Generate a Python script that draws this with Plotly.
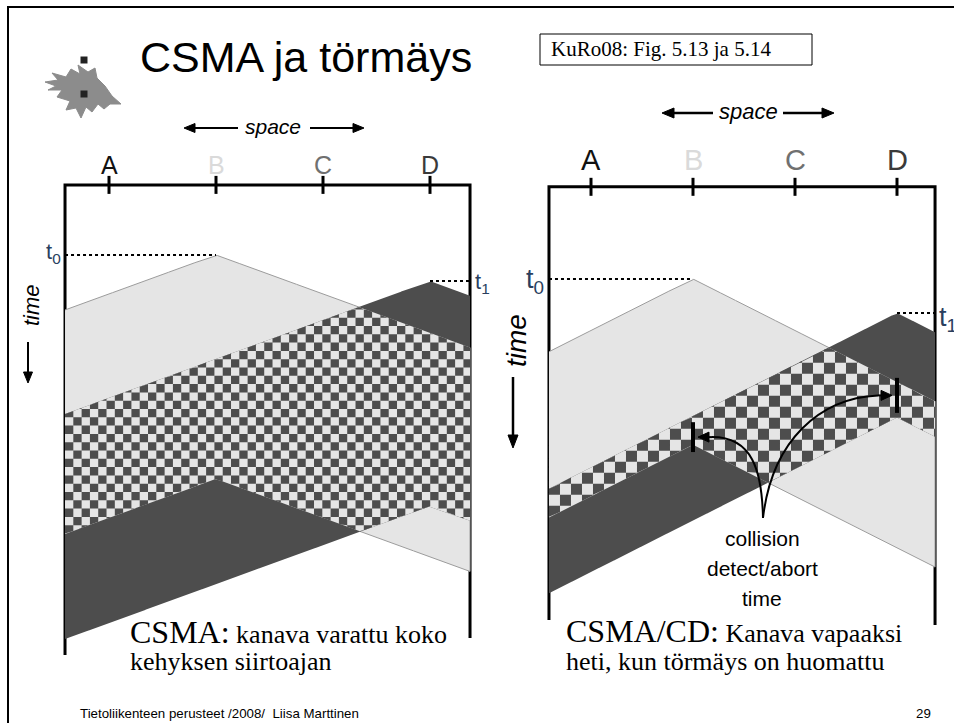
import numpy as np
import plotly.graph_objects as go

W, H = 954, 723

# ---------------- data ----------------
stations = ["A", "B", "C", "D"]
station_x = [1, 2, 3, 4]
station_label_colors = ["#111111", "#dadada", "#707070", "#3a3a3a"]

# times in units of the propagation delay between neighbouring stations
csma_senders = ["B", "D"]
csma_start = [0.0, 0.67]
csma_duration = [5.75, 5.78]

cd_senders = ["B", "D"]
cd_start = [0.0, 0.66]
cd_duration = [3.22, 2.03]
cd_abort_from = [2.78, 1.92]
cd_abort_to = [3.36, 2.60]

# ------------- style / placement --------------
LIGHT = "#e5e5e5"
DARK = "#4d4d4d"
EDGE = "#9c9c9c"
SANS = "Liberation Sans, Arial, sans-serif"
SERIF = "Liberation Serif, Times New Roman, serif"
NARROW = "Liberation Sans Narrow, Arial Narrow, Liberation Sans, sans-serif"

LEFT = dict(xref="x", yref="y", px_x=216, sx=107, px_y=255, sy=38.95,
            x0=0.589, x1=4.374, top=-1.80, bot_l=10.27, bot_r=9.83, sq=8.3)
RIGHT = dict(xref="x2", yref="y2", px_x=693, sx=102, px_y=279, sy=51.5,
             x0=0.588, x1=4.373, top=-1.79, bot_l=6.62, bot_r=6.72, sq=11.0)
REF_X = station_x[1]
REF_T = 0.0


def axis_ranges(P):
    xr = [REF_X - P["px_x"] / P["sx"], REF_X + (W - P["px_x"]) / P["sx"]]
    yr = [REF_T + (H - P["px_y"]) / P["sy"], REF_T - P["px_y"] / P["sy"]]
    return xr, yr


def to_data(P, xp, yp):
    return REF_X + (xp - P["px_x"]) / P["sx"], REF_T + (yp - P["px_y"]) / P["sy"]


def to_px(P, x, t):
    return P["px_x"] + (x - REF_X) * P["sx"], P["px_y"] + (t - REF_T) * P["sy"]


def paper(xp, yp):
    return xp / W, 1 - yp / H


def wave(x, xs, t):
    return t + np.abs(x - xs)


def runs_polygon(xs, lo, hi):
    X, Y = [], []
    idx = np.where(lo < hi)[0]
    if idx.size == 0:
        return X, Y
    for r in np.split(idx, np.where(np.diff(idx) != 1)[0] + 1):
        X += list(xs[r]) + list(xs[r][::-1]) + [None]
        Y += list(lo[r]) + list(hi[r][::-1]) + [None]
    return X, Y


def poly_trace(X, Y, fill, P, line_color=None, line_width=0):
    return go.Scatter(x=X, y=Y, mode="lines", fill="toself", fillcolor=fill,
                      line=dict(color=line_color or fill, width=line_width),
                      xaxis=P["xref"], yaxis=P["yref"], hoverinfo="skip",
                      showlegend=False)


def panel_traces(P, senders, starts, durs):
    pos = [station_x[stations.index(s)] for s in senders]
    xs = np.union1d(np.linspace(P["x0"], P["x1"], 2001), pos)
    xs = xs[(xs >= P["x0"]) & (xs <= P["x1"])]

    def top(i, x):
        return wave(x, pos[i], starts[i])

    def bot(i, x):
        return wave(x, pos[i], starts[i] + durs[i])

    def lo_f(x):
        return np.maximum(top(0, x), top(1, x))

    def hi_f(x):
        return np.minimum(bot(0, x), bot(1, x))

    tr = []
    X, Y = runs_polygon(xs, top(0, xs), bot(0, xs))
    tr.append(poly_trace(X, Y, LIGHT, P, EDGE, 1))
    X, Y = runs_polygon(xs, top(1, xs), bot(1, xs))
    tr.append(poly_trace(X, Y, DARK, P))
    X, Y = runs_polygon(xs, lo_f(xs), hi_f(xs))
    tr.append(poly_trace(X, Y, LIGHT, P))

    sqx = P["sq"] / P["sx"]
    sqy = P["sq"] / P["sy"]
    CX, CY = [], []
    ncol = int(np.ceil((P["x1"] - P["x0"]) / sqx))
    for i in range(ncol):
        a = P["x0"] + i * sqx
        b = min(a + sqx, P["x1"])
        xx = np.linspace(a, b, 9)
        lo = lo_f(xx)
        hi = hi_f(xx)
        if not np.any(lo < hi):
            continue
        j0 = int(np.floor((lo.min() - P["top"]) / sqy))
        j1 = int(np.ceil((hi.max() - P["top"]) / sqy))
        for j in range(j0, j1 + 1):
            if (i + j) % 2 == 0:
                continue
            c = P["top"] + j * sqy
            d = c + sqy
            X, Y = runs_polygon(xx, np.maximum(lo, c), np.minimum(hi, d))
            CX += X
            CY += Y
    tr.append(poly_trace(CX, CY, DARK, P))
    return tr, pos


def frame_shapes(P, pos, starts):
    xr, yr = P["xref"], P["yref"]
    sh = []
    path = (f"M {P['x0']},{P['bot_l']} L {P['x0']},{P['top']} "
            f"L {P['x1']},{P['top']} L {P['x1']},{P['bot_r']}")
    sh.append(dict(type="path", path=path, xref=xr, yref=yr,
                   line=dict(color="black", width=3), layer="below"))
    tick = 9.0 / P["sy"]
    for sxv in station_x:
        sh.append(dict(type="line", x0=sxv, x1=sxv, y0=P["top"] - tick,
                       y1=P["top"] + tick, xref=xr, yref=yr,
                       line=dict(color="black", width=3), layer="above"))
    sh.append(dict(type="line", x0=P["x0"], x1=pos[0], y0=starts[0], y1=starts[0],
                   xref=xr, yref=yr, line=dict(color="black", width=2, dash="dot")))
    sh.append(dict(type="line", x0=pos[1], x1=P["x1"], y0=starts[1], y1=starts[1],
                   xref=xr, yref=yr, line=dict(color="black", width=2, dash="dot")))
    return sh


def arrow_shapes(tx, ty, hx, hy, conv, xref, yref, width=2, head=10, half=4.5):
    """straight arrow given in pixel space (tail -> head), converted with conv"""
    dx, dy = hx - tx, hy - ty
    n = (dx * dx + dy * dy) ** 0.5
    ux, uy = dx / n, dy / n
    bx, by = hx - ux * head, hy - uy * head
    p1 = conv(bx - uy * half, by + ux * half)
    p2 = conv(bx + uy * half, by - ux * half)
    h = conv(hx, hy)
    t = conv(tx, ty)
    b = conv(bx + ux * 1.5, by + uy * 1.5)
    return [dict(type="line", x0=t[0], y0=t[1], x1=b[0], y1=b[1], xref=xref, yref=yref,
                 line=dict(color="black", width=width)),
            dict(type="path", xref=xref, yref=yref,
                 path=f"M {h[0]},{h[1]} L {p1[0]},{p1[1]} L {p2[0]},{p2[1]} Z",
                 fillcolor="black", line=dict(color="black", width=1))]


fig = go.Figure()
ltr, lpos = panel_traces(LEFT, csma_senders, csma_start, csma_duration)
rtr, rpos = panel_traces(RIGHT, cd_senders, cd_start, cd_duration)
for t in ltr + rtr:
    fig.add_trace(t)

shapes = frame_shapes(LEFT, lpos, csma_start) + frame_shapes(RIGHT, rpos, cd_start)

# abort bars (CSMA/CD)
for i, s in enumerate(cd_senders):
    xv = station_x[stations.index(s)]
    shapes.append(dict(type="line", x0=xv, x1=xv, y0=cd_abort_from[i], y1=cd_abort_to[i],
                       xref="x2", yref="y2", line=dict(color="black", width=4)))


def rconv(xp, yp):
    return to_data(RIGHT, xp, yp)


# curved arrows from the label to the abort bars
tip_px = (763, 518)
tip = rconv(*tip_px)
curves = [((762, 470), (752, 437), 14), ((772, 440), (820, 398), -14)]
for i, s in enumerate(cd_senders):
    xv = station_x[stations.index(s)]
    mid = (cd_abort_from[i] + cd_abort_to[i]) / 2
    ex, ey = to_px(RIGHT, xv, mid)
    c1p, c2p, off = curves[i]
    ex = ex + (5 if off > 0 else -5)
    end_line = (ex + off, ey)
    c1 = rconv(*c1p)
    c2 = rconv(*c2p)
    e = rconv(*end_line)
    shapes.append(dict(type="path", xref="x2", yref="y2",
                       path=f"M {tip[0]},{tip[1]} C {c1[0]},{c1[1]} {c2[0]},{c2[1]} {e[0]},{e[1]}",
                       line=dict(color="black", width=2)))
    shapes += arrow_shapes(end_line[0], end_line[1], ex, ey, rconv, "x2", "y2", width=2,
                           head=11, half=5)


def pconv(xp, yp):
    return paper(xp, yp)


# space / time arrows
shapes += arrow_shapes(238, 128, 184, 128, pconv, "paper", "paper", width=2, head=11, half=4.5)
shapes += arrow_shapes(310, 128, 364, 128, pconv, "paper", "paper", width=2, head=11, half=4.5)
shapes += arrow_shapes(713, 113, 662, 113, pconv, "paper", "paper", width=2.5, head=12, half=5)
shapes += arrow_shapes(783, 113, 834, 113, pconv, "paper", "paper", width=2.5, head=12, half=5)
shapes += arrow_shapes(28, 342, 28, 383, pconv, "paper", "paper", width=2, head=11, half=4.5)
shapes += arrow_shapes(513, 377, 513, 448, pconv, "paper", "paper", width=2.5, head=13, half=5)

# slide border (right and bottom edges lie outside the view)
bx0, by0 = paper(8, 7)
bx1, by1 = paper(965, 745)
shapes.append(dict(type="rect", xref="paper", yref="paper", x0=bx0, y0=by0, x1=bx1, y1=by1,
                   line=dict(color="black", width=2)))
# reference box
rx0, ry0 = paper(540, 34)
rx1, ry1 = paper(812, 65)
shapes.append(dict(type="rect", xref="paper", yref="paper", x0=rx0, y0=ry0, x1=rx1, y1=ry1,
                   line=dict(color="black", width=1)))

# logo (flame) and bullets
flame_px = [(45, 82), (58, 80), (52, 73), (66, 77), (71, 69), (80, 74), (78, 65), (88, 72),
            (95, 68), (97, 78), (105, 86), (112, 96), (121, 104), (110, 104), (104, 109),
            (98, 104), (92, 112), (86, 107), (81, 118), (76, 108), (66, 110), (70, 101),
            (57, 97), (62, 90), (48, 90), (56, 86)]
fp = [paper(a, b) for a, b in flame_px]
fpath = "M " + " L ".join(f"{a},{b}" for a, b in fp) + " Z"
shapes.append(dict(type="path", xref="paper", yref="paper", path=fpath,
                   fillcolor="#8c8c8c", line=dict(color="#8c8c8c", width=1)))
for (cx, cy) in [(84, 60), (84, 94)]:
    a0, b0 = paper(cx - 3.5, cy - 3.5)
    a1, b1 = paper(cx + 3.5, cy + 3.5)
    shapes.append(dict(type="rect", xref="paper", yref="paper", x0=a0, y0=b0, x1=a1, y1=b1,
                       fillcolor="#222222", line=dict(width=0)))

ann = []


def txt(text, xp, yp, size, family, color="#000000", xanchor="center", angle=0):
    x, y = paper(xp, yp)
    ann.append(dict(text=text, x=x, y=y, xref="paper", yref="paper", showarrow=False,
                    font=dict(size=size, family=family, color=color), xanchor=xanchor,
                    yanchor="middle", textangle=angle))


# title & reference
txt("CSMA ja törmäys", 138, 57, 43, SANS, xanchor="left")
txt("KuRo08: Fig. 5.13 ja 5.14", 549, 49, 21, SERIF, xanchor="left")

# space labels
txt("<i>space</i>", 273, 126, 21, SANS)
txt("<i>space</i>", 748, 111, 22, NARROW)

# station letters
for i, s in enumerate(stations):
    ann.append(dict(text=s, x=station_x[i], y=paper(0, 165)[1], xref="x", yref="paper",
                    showarrow=False, font=dict(size=25, family=SANS, color=station_label_colors[i]),
                    yanchor="middle"))
    ann.append(dict(text=s, x=station_x[i], y=paper(0, 160)[1], xref="x2", yref="paper",
                    showarrow=False, font=dict(size=29, family=NARROW, color=station_label_colors[i]),
                    yanchor="middle"))

# t0 / t1 labels
ann.append(dict(text="t<sub>0</sub>", x=LEFT["x0"], y=csma_start[0], xref="x", yref="y",
                showarrow=False, font=dict(size=22, family=SANS), xanchor="right",
                yanchor="middle", xshift=-2, yshift=2))
ann.append(dict(text="t<sub>1</sub>", x=LEFT["x1"], y=csma_start[1], xref="x", yref="y",
                showarrow=False, font=dict(size=22, family=SANS), xanchor="left",
                yanchor="middle", xshift=3, yshift=-2))
ann.append(dict(text="t<sub>0</sub>", x=RIGHT["x0"], y=cd_start[0], xref="x2", yref="y2",
                showarrow=False, font=dict(size=27, family=NARROW), xanchor="right",
                yanchor="middle", xshift=-3, yshift=-2))
ann.append(dict(text="t<sub>1</sub>", x=RIGHT["x1"], y=cd_start[1], xref="x2", yref="y2",
                showarrow=False, font=dict(size=27, family=NARROW), xanchor="left",
                yanchor="middle", xshift=2, yshift=-6))

# time labels
txt("<i>time</i>", 31, 305, 22, SANS, angle=-90)
txt("<i>time</i>", 516, 341, 28, SANS, angle=-90)

# collision label
txt("collision", 762, 538, 21, NARROW)
txt("detect/abort", 762, 568, 21, NARROW)
txt("time", 762, 598, 21, NARROW)

# captions
txt('<span style="font-size:32px">CSMA:</span> kanava varattu koko', 128, 632, 26, SERIF, xanchor="left")
txt("kehyksen siirtoajan", 128, 661, 26, SERIF, xanchor="left")
txt('<span style="font-size:32px">CSMA/CD:</span> Kanava vapaaksi', 564, 631, 26, SERIF, xanchor="left")
txt("heti, kun törmäys on huomattu", 564, 661, 26, SERIF, xanchor="left")

# footer
txt("Tietoliikenteen perusteet /2008/  Liisa Marttinen", 78, 713, 13.3, SANS, xanchor="left")
txt("29", 933, 713, 13.3, SANS, xanchor="right")

lxr, lyr = axis_ranges(LEFT)
rxr, ryr = axis_ranges(RIGHT)
ax_common = dict(visible=False, showgrid=False, zeroline=False, fixedrange=True)
fig.update_layout(
    width=W, height=H, margin=dict(l=0, r=0, t=0, b=0),
    paper_bgcolor="white", plot_bgcolor="rgba(0,0,0,0)",
    xaxis=dict(range=lxr, domain=[0, 1], **ax_common),
    yaxis=dict(range=lyr, domain=[0, 1], **ax_common),
    xaxis2=dict(range=rxr, domain=[0, 1], overlaying="x", anchor="y2", **ax_common),
    yaxis2=dict(range=ryr, domain=[0, 1], overlaying="y", anchor="x2", **ax_common),
    shapes=shapes, annotations=ann, showlegend=False,
)
fig.write_html("out.html", config={"displayModeBar": False},
               post_script="document.body.style.margin='0px';document.body.style.overflow='hidden';")
